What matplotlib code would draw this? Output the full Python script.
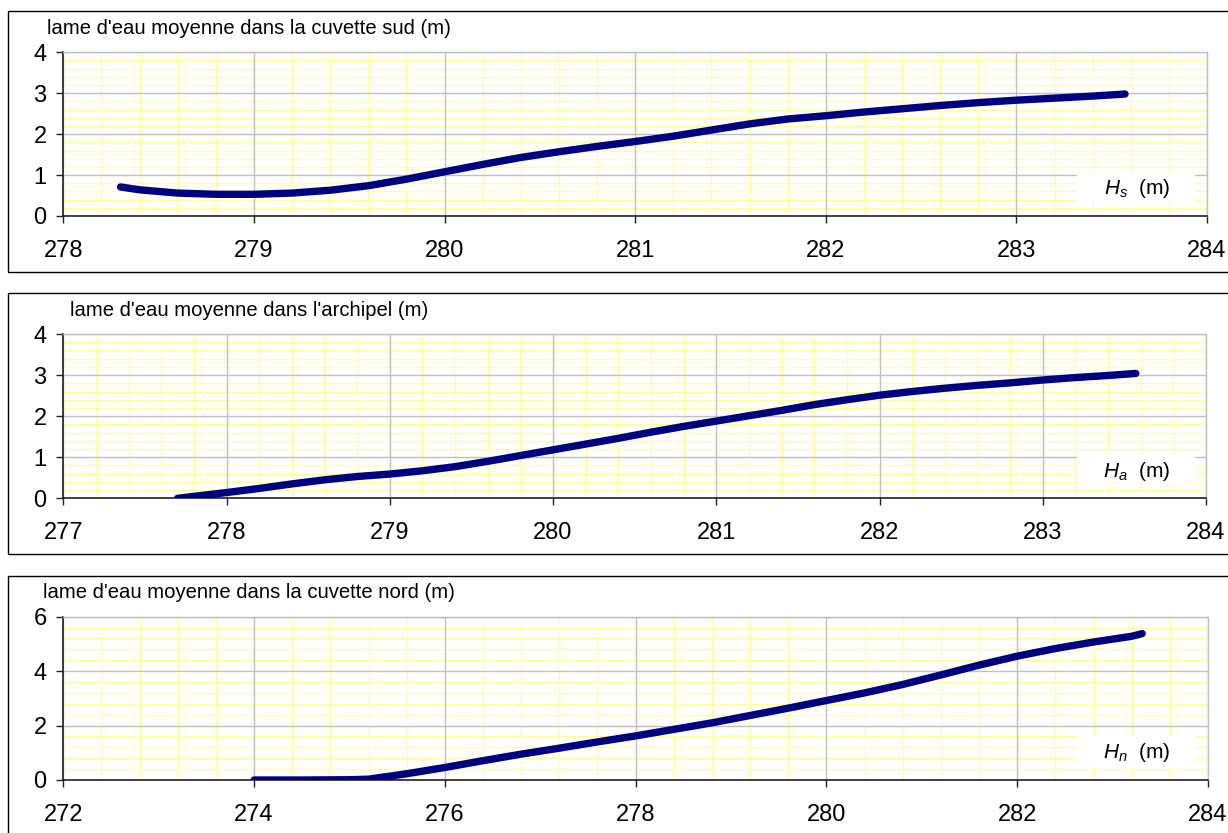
import matplotlib
matplotlib.use("Agg")
import matplotlib.pyplot as plt
from matplotlib.patches import Rectangle
from matplotlib.ticker import MultipleLocator

plt.rcParams['font.family'] = ['Liberation Sans', 'DejaVu Sans']
plt.rcParams['mathtext.fontset'] = 'custom'
plt.rcParams['mathtext.it'] = 'Liberation Sans:italic'
plt.rcParams['mathtext.rm'] = 'Liberation Sans'

# data
sud_x = [278.30, 278.4, 278.6, 278.8, 279.0, 279.2, 279.4, 279.6, 279.8, 280.0,
         280.2, 280.4, 280.6, 280.8, 281.0, 281.2, 281.4, 281.6, 281.8, 282.0,
         282.2, 282.4, 282.6, 282.8, 283.0, 283.2, 283.4, 283.57]
sud_y = [0.71, 0.64, 0.56, 0.53, 0.53, 0.56, 0.63, 0.74, 0.90, 1.08,
         1.26, 1.43, 1.57, 1.70, 1.82, 1.95, 2.10, 2.25, 2.37, 2.45,
         2.54, 2.62, 2.70, 2.77, 2.83, 2.88, 2.93, 2.98]

arch_x = [277.70, 278.0, 278.2, 278.4, 278.6, 278.8, 279.0, 279.2, 279.4, 279.6,
          279.8, 280.0, 280.2, 280.4, 280.6, 280.8, 281.0, 281.2, 281.4, 281.6,
          281.8, 282.0, 282.2, 282.4, 282.6, 282.8, 283.0, 283.2, 283.4, 283.57]
arch_y = [0.0, 0.14, 0.24, 0.35, 0.45, 0.53, 0.59, 0.67, 0.77, 0.90,
          1.04, 1.18, 1.32, 1.46, 1.61, 1.75, 1.88, 2.01, 2.14, 2.28,
          2.40, 2.51, 2.60, 2.68, 2.75, 2.81, 2.88, 2.94, 2.99, 3.04]

nord_x = [274.0, 274.5, 275.0, 275.2, 275.6, 276.0, 276.4, 276.8, 277.2, 277.6,
          278.0, 278.4, 278.8, 279.2, 279.6, 280.0, 280.4, 280.8, 281.2, 281.6,
          282.0, 282.4, 282.8, 283.2, 283.31]
nord_y = [0.0, 0.0, 0.01, 0.03, 0.23, 0.46, 0.71, 0.95, 1.17, 1.40,
          1.62, 1.86, 2.10, 2.37, 2.64, 2.92, 3.20, 3.51, 3.86, 4.22,
          4.55, 4.83, 5.07, 5.28, 5.38]

titles = ["lame d'eau moyenne dans la cuvette sud (m)",
          "lame d'eau moyenne dans l'archipel (m)",
          "lame d'eau moyenne dans la cuvette nord (m)"]
labels = [r"$H_{s}$  (m)", r"$H_{a}$  (m)", r"$H_{n}$  (m)"]

W, H = 1228, 833
fig = plt.figure(figsize=(W / 100, H / 100), dpi=100)


def fx(px):
    return px / W


def fy(py):
    return 1 - py / H


# panel: (data, xlim, xstep, ylim, ystep, plot box px, frame px)
panels = [
    (sud_x, sud_y, (278, 284), 1, (0, 4), 1, (63.3, 52.3, 1207, 216), (8, 10.7, 271.7)),
    (arch_x, arch_y, (277, 284), 1, (0, 4), 1, (63.3, 334, 1206, 498.3), (8, 293, 554)),
    (nord_x, nord_y, (272, 284), 2, (0, 6), 2, (63.3, 616.7, 1208, 780), (8, 575.7, 840)),
]

for i, (xs, ys, xlim, xstep, ylim, ystep, box, frame) in enumerate(panels):
    # outer frame of each chart
    fl, ft, fb = frame
    fig.add_artist(Rectangle((fx(fl), fy(fb)), fx(W + 20 - fl), fy(ft) - fy(fb),
                             transform=fig.transFigure, fill=False,
                             edgecolor='black', lw=1.0, zorder=0))

    l, t, r, b = box
    ax = fig.add_axes([fx(l), fy(b), fx(r - l), fy(t) - fy(b)])
    ax.plot(xs, ys, color='#000080', lw=5.3, solid_capstyle='round', zorder=5)
    ax.set_xlim(*xlim)
    ax.set_ylim(*ylim)
    ax.xaxis.set_major_locator(MultipleLocator(xstep))
    ax.xaxis.set_minor_locator(MultipleLocator(xstep / 5))
    ax.yaxis.set_major_locator(MultipleLocator(ystep))
    ax.yaxis.set_minor_locator(MultipleLocator(ystep / 5))
    ax.grid(which='minor', color='#ffff99', lw=1.0)
    ax.set_axisbelow(True)
    # major grid drawn on top of the yellow minor grid
    for xv in ax.get_xticks():
        ax.axvline(xv, color='#c0c0c0', lw=1.0, zorder=1)
    for yv in ax.get_yticks():
        ax.axhline(yv, color='#c0c0c0', lw=1.0, zorder=1)
    ax.set_xlim(*xlim)
    ax.set_ylim(*ylim)
    for s in ['top', 'right']:
        ax.spines[s].set_color('#c0c0c0')
        ax.spines[s].set_linewidth(1.0)
    for s in ['left', 'bottom']:
        ax.spines[s].set_color('#202020')
        ax.spines[s].set_linewidth(1.2)
    ax.tick_params(which='minor', length=0)
    ax.tick_params(which='major', direction='out', length=5, width=1.0,
                   color='#202020', labelsize=17)
    ax.tick_params(axis='x', pad=12)
    ax.tick_params(axis='y', pad=7)

    fig.text(fx(249), fy(t - 24), titles[i], ha='center', va='center',
             fontsize=14.6)

    # label box in the lower right corner
    fig.add_artist(Rectangle((fx(1077), fy(b - 14)), fx(118), fy(b - 44) - fy(b - 14),
                             transform=fig.transFigure, facecolor='white',
                             edgecolor='none', zorder=3))
    fig.text(fx(1137), fy(b - 27), labels[i], ha='center', va='center',
             fontsize=15, zorder=4)

fig.savefig("out.png", dpi=100)
